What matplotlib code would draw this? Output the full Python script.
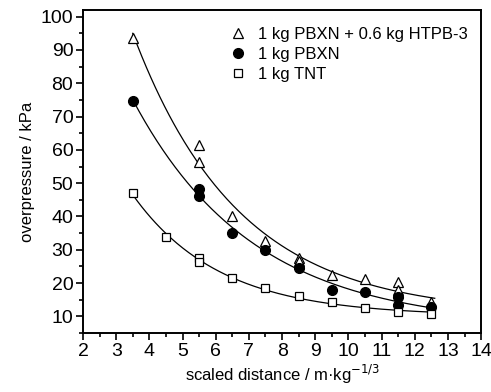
import numpy as np
import matplotlib
matplotlib.use("Agg")
import matplotlib.pyplot as plt
from matplotlib.ticker import MultipleLocator

plt.rcParams["font.family"] = ["Liberation Sans Narrow", "Liberation Sans", "DejaVu Sans"]

# scaled distance (m*kg^-1/3) and overpressure (kPa)
x_htpb = [3.5, 5.5, 5.5, 6.5, 7.5, 8.5, 8.5, 9.5, 10.5, 11.5, 11.5, 12.5]
y_htpb = [93.7, 61.4, 56.4, 40.1, 32.6, 27.6, 26.6, 22.4, 21.2, 20.4, 17.8, 14.4]

x_pbxn = [3.5, 5.5, 5.5, 6.5, 7.5, 8.5, 9.5, 10.5, 11.5, 11.5, 12.5]
y_pbxn = [74.6, 48.3, 46.1, 34.9, 30.0, 24.4, 18.0, 17.2, 15.8, 13.4, 12.8]

x_tnt = [3.5, 4.5, 5.5, 5.5, 6.5, 7.5, 8.5, 9.5, 10.5, 11.5, 12.5]
y_tnt = [47.1, 33.9, 27.4, 26.3, 21.6, 18.5, 16.0, 14.3, 12.5, 11.4, 10.8]

labels = ["1 kg PBXN + 0.6 kg HTPB-3", "1 kg PBXN", "1 kg TNT"]


def expdec_fit(x, y):
    """y = y0 + a*exp(-x/t), t by grid search, a and y0 by least squares."""
    x = np.asarray(x, float)
    y = np.asarray(y, float)
    best = None
    for t in np.linspace(0.5, 20, 400):
        A = np.column_stack([np.exp(-x / t), np.ones_like(x)])
        coef, *_ = np.linalg.lstsq(A, y, rcond=None)
        err = np.sum((A @ coef - y) ** 2)
        if best is None or err < best[0]:
            best = (err, t, coef)
    _, t, (a, y0) = best
    return lambda xx: y0 + a * np.exp(-xx / t)


fig = plt.figure(figsize=(4.91, 3.92), dpi=100)
ax = fig.add_axes([0.169, 0.1505, 0.811, 0.824])

xs = np.linspace(3.5, 12.6, 200)
for xd, yd in ((x_htpb, y_htpb), (x_pbxn, y_pbxn), (x_tnt, y_tnt)):
    f = expdec_fit(xd, yd)
    ax.plot(xs, f(xs), color="black", lw=0.9, zorder=1)

ax.plot(x_htpb, y_htpb, ls="none", marker="^", ms=7.5, mfc="white", mec="black",
        mew=0.9, label=labels[0], zorder=3)
ax.plot(x_pbxn, y_pbxn, ls="none", marker="o", ms=7, mfc="black", mec="black",
        label=labels[1], zorder=3)
ax.plot(x_tnt, y_tnt, ls="none", marker="s", ms=6, mfc="white", mec="black",
        mew=0.9, label=labels[2], zorder=3)

ax.set_xlim(2, 14)
ax.set_ylim(5, 102)
ax.xaxis.set_major_locator(MultipleLocator(1))
ax.xaxis.set_minor_locator(MultipleLocator(0.5))
ax.yaxis.set_major_locator(MultipleLocator(10))
ax.yaxis.set_minor_locator(MultipleLocator(5))
ax.set_yticks(np.arange(10, 101, 10))
ax.tick_params(which="both", direction="out", top=False, right=False, labelsize=14, width=1.2)
ax.tick_params(which="major", length=5, pad=2)
ax.tick_params(which="minor", length=3)
for s in ax.spines.values():
    s.set_linewidth(1.4)

ax.set_xlabel("scaled distance / m\u00b7kg$^{-1/3}$", fontsize=12, labelpad=2)
ax.set_ylabel("overpressure / kPa", fontsize=12, labelpad=4)

ax.legend(loc="upper right", frameon=False, fontsize=12, handletextpad=0.6,
          handlelength=1.2, labelspacing=0.3, borderaxespad=0.4,
          bbox_to_anchor=(1.0, 0.99))

fig.savefig("out.png", dpi=100)
